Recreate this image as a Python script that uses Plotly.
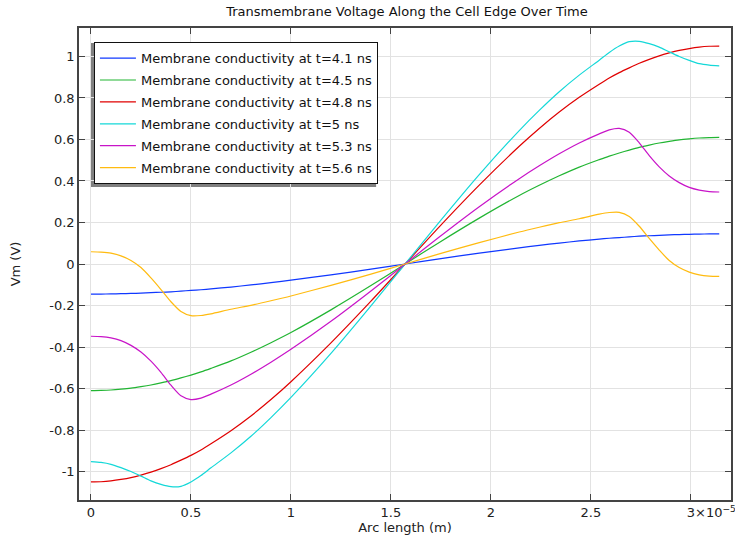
import plotly.graph_objects as go

# Arc length along the cell edge, in units of 1e-5 m
arc_length = [0, 0.05, 0.1, 0.15, 0.2, 0.25, 0.3, 0.35, 0.4, 0.45, 0.5, 0.55, 0.6, 0.7, 0.8, 0.9,
              1.0, 1.2, 1.4, 1.5708, 1.7416, 1.9416, 2.1416, 2.2416, 2.3416, 2.4416,
              2.5416, 2.5916, 2.6416, 2.6916, 2.7416, 2.7916, 2.8416, 2.8916, 2.9416,
              2.9916, 3.0416, 3.0916, 3.1416]

vm_4_1 = [-0.145, -0.145, -0.144, -0.143, -0.142, -0.140, -0.138, -0.136, -0.134, -0.131, -0.127,
          -0.124, -0.120, -0.111, -0.101, -0.090, -0.078, -0.052, -0.025, 0.0,
          0.025, 0.052, 0.078, 0.090, 0.101, 0.111, 0.120, 0.124, 0.127, 0.131, 0.134,
          0.136, 0.138, 0.140, 0.142, 0.143, 0.144, 0.145, 0.145]

vm_4_5 = [-0.610, -0.609, -0.607, -0.603, -0.598, -0.591, -0.583, -0.573, -0.562, -0.549, -0.535,
          -0.520, -0.503, -0.467, -0.425, -0.379, -0.330, -0.221, -0.104, 0.0,
          0.104, 0.221, 0.330, 0.379, 0.425, 0.467, 0.503, 0.520, 0.535, 0.549, 0.562,
          0.573, 0.583, 0.591, 0.598, 0.603, 0.607, 0.609, 0.610]

vm_4_8 = [-1.050, -1.049, -1.045, -1.038, -1.029, -1.017, -1.003, -0.986, -0.967, -0.945, -0.922,
          -0.896, -0.866, -0.803, -0.732, -0.653, -0.567, -0.380, -0.179, 0.0,
          0.179, 0.380, 0.567, 0.653, 0.732, 0.803, 0.866, 0.896, 0.922, 0.945, 0.967,
          0.986, 1.003, 1.017, 1.029, 1.038, 1.045, 1.049, 1.050]

vm_5_0 = [-0.952, -0.956, -0.965, -0.981, -1.000, -1.022, -1.045, -1.062, -1.073, -1.071, -1.050,
          -1.019, -0.982, -0.910, -0.830, -0.740, -0.643, -0.431, -0.202, 0.0,
          0.202, 0.431, 0.643, 0.740, 0.830, 0.910, 0.982, 1.019, 1.050, 1.071, 1.073,
          1.062, 1.045, 1.022, 1.000, 0.981, 0.965, 0.958, 0.955]

vm_5_3 = [-0.348, -0.350, -0.356, -0.369, -0.392, -0.424, -0.468, -0.522, -0.584, -0.635, -0.653,
          -0.646, -0.627, -0.583, -0.531, -0.473, -0.411, -0.276, -0.130, 0.0,
          0.130, 0.276, 0.411, 0.473, 0.531, 0.583, 0.627, 0.646, 0.653, 0.635, 0.584,
          0.522, 0.468, 0.424, 0.392, 0.369, 0.356, 0.349, 0.347]

vm_5_6 = [0.059, 0.057, 0.052, 0.039, 0.017, -0.017, -0.067, -0.123, -0.182, -0.229, -0.249,
          -0.248, -0.240, -0.218, -0.199, -0.177, -0.154, -0.103, -0.049, 0.0,
          0.049, 0.103, 0.154, 0.177, 0.199, 0.218, 0.240, 0.248, 0.249, 0.229, 0.182,
          0.123, 0.067, 0.017, -0.017, -0.039, -0.052, -0.058, -0.060]

series = [
    ("Membrane conductivity at t=4.1 ns", vm_4_1, "#1038ff"),
    ("Membrane conductivity at t=4.5 ns", vm_4_5, "#22b533"),
    ("Membrane conductivity at t=4.8 ns", vm_4_8, "#e00000"),
    ("Membrane conductivity at t=5 ns", vm_5_0, "#14d8d8"),
    ("Membrane conductivity at t=5.3 ns", vm_5_3, "#c814c8"),
    ("Membrane conductivity at t=5.6 ns", vm_5_6, "#ffbb10"),
]

x_tick_vals = [0, 0.5, 1, 1.5, 2, 2.5, 3]
x_tick_text = ["0", "0.5", "1", "1.5", "2", "2.5", "3"]
y_tick_vals = [-1, -0.8, -0.6, -0.4, -0.2, 0, 0.2, 0.4, 0.6, 0.8, 1]
y_tick_text = ["-1", "-0.8", "-0.6", "-0.4", "-0.2", "0", "0.2", "0.4", "0.6", "0.8", "1"]

fig = go.Figure()
for i, (name, vals, color) in enumerate(series):
    fig.add_trace(go.Scatter(
        x=arc_length, y=vals, mode="lines", name=name,
        line=dict(color=color, width=1.2, shape="spline", smoothing=0.7),
        legendgroup=f"g{i}",
    ))

font = dict(family="DejaVu Sans", size=13, color="#222")

fig.update_layout(
    width=735, height=539,
    margin=dict(l=79, r=2, t=28, b=39),
    paper_bgcolor="white", plot_bgcolor="white",
    font=font,
    title=dict(text="Transmembrane Voltage Along the Cell Edge Over Time",
               x=0.5537, xanchor="center", y=0.978, yanchor="middle",
               font=dict(family="DejaVu Sans", size=13, color="#111")),
    showlegend=True,
    legend=dict(x=0.0229, y=0.970, xanchor="left", yanchor="top",
                bgcolor="white", bordercolor="#111", borderwidth=1,
                font=dict(family="DejaVu Sans", size=13, color="#111"),
                tracegroupgap=2, itemwidth=36),
    xaxis=dict(range=[-0.0598, 3.2004], tickvals=x_tick_vals, ticktext=x_tick_text,
               showgrid=True, gridcolor="#e2e2e2", gridwidth=1,
               zeroline=False, showline=True, linecolor="#444", linewidth=1.5,
               mirror="ticks", ticks="inside", ticklen=6, tickcolor="#444",
               tickfont=dict(size=13),
               title=dict(text="Arc length (m)", standoff=4, font=dict(size=13))),
    yaxis=dict(range=[-1.137, 1.137], tickvals=y_tick_vals, ticktext=y_tick_text,
               showgrid=True, gridcolor="#e2e2e2", gridwidth=1,
               zeroline=False, showline=True, linecolor="#444", linewidth=1.5,
               mirror="ticks", ticks="inside", ticklen=6, tickcolor="#444",
               tickfont=dict(size=13),
               title=dict(text="Vm (V)", standoff=26, font=dict(size=13))),
)

# legend drop shadow
fig.add_shape(type="rect", xref="paper", yref="paper",
              x0=0.0183, x1=0.4557, y0=0.663, y1=0.968,
              fillcolor="#808080", line=dict(width=0), layer="below")

fig.add_annotation(x=3, y=0, xref="x", yref="paper", yanchor="top", xanchor="left",
                   text="×10<sup>−5</sup>", showarrow=False, xshift=2, yshift=-2,
                   font=font)

fig.write_html("out.html")
